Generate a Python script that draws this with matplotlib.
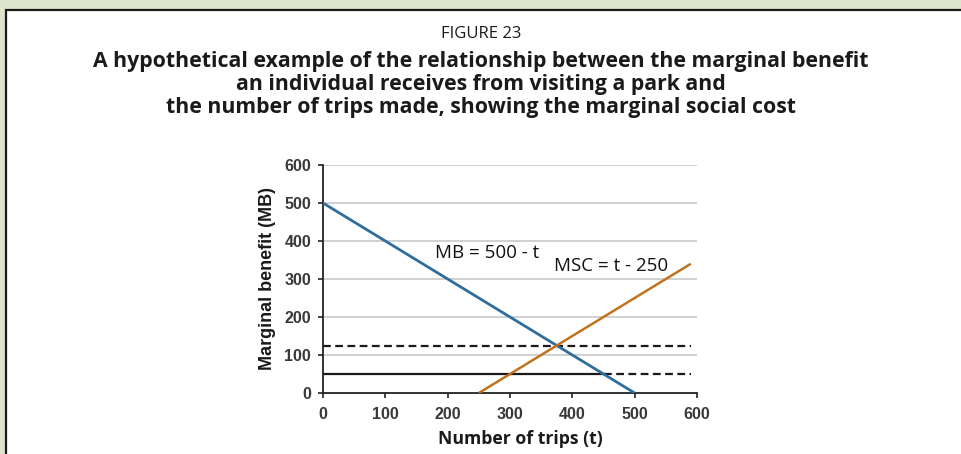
import numpy as np
import matplotlib
matplotlib.use('Agg')
import matplotlib.pyplot as plt
from matplotlib.patches import Rectangle

# ---- data ----
mb_t = [0, 500]
mb_v = [500, 0]
msc_t = [250, 590]
msc_v = [0, 340]
eq_price = 125            # dashed line at MB = MSC
low_price = 50            # solid up to MB crossing, dashed after
low_cross = 450
line_end = 590
xticks = [0, 100, 200, 300, 400, 500, 600]
yticks = [0, 100, 200, 300, 400, 500, 600]
title_top = 'FIGURE 23'
title_lines = ['A hypothetical example of the relationship between the marginal benefit',
               'an individual receives from visiting a park and',
               'the number of trips made, showing the marginal social cost']

W, H = 962, 454
fig = plt.figure(figsize=(W / 100, H / 100), dpi=100, facecolor='#dde6cc')

# white panel with dark border (top + left visible)
fig.patches.append(Rectangle((6 / W, -0.1), 1.2, 1 - 10 / H + 0.1, transform=fig.transFigure,
                             facecolor='white', edgecolor='#1a1a1a', lw=1.6, zorder=-5))

fig.text(0.5, 1 - 34 / H, title_top, ha='center', va='center', fontsize=12,
         family='Open Sans', color='#1a1a1a')
for i, s in enumerate(title_lines):
    fig.text(0.5, 1 - (61.5 + 23 * i) / H, s, ha='center', va='center', fontsize=15.3,
             family='Open Sans', weight='bold', color='#1a1a1a')

ax = fig.add_axes([323 / W, 1 - 393 / H, (697 - 323) / W, (393 - 165) / H])
ax.set_zorder(2)
ax.set_xlim(0, 600)
ax.set_ylim(0, 600)
ax.set_xticks(xticks)
ax.set_yticks(yticks)
for y in yticks[1:]:
    ax.axhline(y, color='#c4c4c4', lw=1.1, zorder=1)
ax.spines['top'].set_visible(False)
ax.spines['right'].set_visible(False)
for sp in ('left', 'bottom'):
    ax.spines[sp].set_linewidth(1.3)
    ax.spines[sp].set_color('#222222')
ax.tick_params(direction='out', length=3.5, width=1.2, color='#222222',
               labelsize=11.5, labelcolor='#383838')
ax.tick_params(axis='x', pad=6.5)
ax.tick_params(axis='y', pad=5)
for lab in ax.get_xticklabels() + ax.get_yticklabels():
    lab.set_family('Liberation Sans')
    lab.set_weight('bold')

ax.plot([0, line_end], [eq_price, eq_price], color='#1a1a1a', lw=1.6, ls=(0, (3.5, 2)), zorder=3)
ax.plot([0, low_cross], [low_price, low_price], color='#1a1a1a', lw=1.6, zorder=3)
ax.plot([low_cross, line_end], [low_price, low_price], color='#1a1a1a', lw=1.6,
        ls=(0, (3.5, 2)), zorder=3)
ax.plot(mb_t, mb_v, color='#2f6d9c', lw=2.0, zorder=4, solid_capstyle='butt')
ax.plot(msc_t, msc_v, color='#c0731f', lw=1.8, zorder=4, solid_capstyle='butt')

ax.text(180, 368, 'MB = 500 - t', fontsize=13.5, family='Open Sans', va='center', color='#111111')
ax.text(370, 334, 'MSC = t - 250', fontsize=13.5, family='Open Sans', va='center', color='#111111')

ax.set_xlabel('Number of trips (t)', fontsize=12.7, family='Open Sans', weight='bold',
              color='#1a1a1a')
ax.xaxis.set_label_coords(0.527, -0.2, transform=ax.transAxes)
ax.xaxis.label.set_va('center')
ax.set_ylabel('Marginal benefit (MB)', fontsize=13, family='Liberation Sans', weight='bold',
              color='#1a1a1a', labelpad=6)

fig.savefig('out.png', dpi=100, facecolor=fig.get_facecolor())
